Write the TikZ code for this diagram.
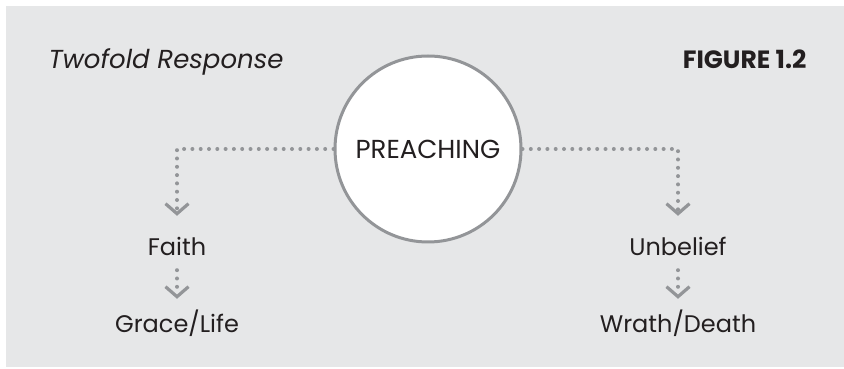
\documentclass[tikz,border=0pt]{standalone}
\usepackage{fontspec}
\setmainfont{Poppins}
\usetikzlibrary{arrows.meta}
\definecolor{panel}{HTML}{E6E7E8}
\definecolor{dotgray}{HTML}{939598}
\definecolor{ink}{HTML}{231F20}

\begin{document}
\begin{tikzpicture}[x=1pt,y=1pt,
   every node/.style={text=ink,font=\fontsize{24}{28}\selectfont},
   label node/.style={anchor=base,inner sep=0pt,text height=17pt,text depth=5pt},
   hub/.style={draw=dotgray,line width=3pt,fill=white,circle,minimum size=186pt,inner sep=0pt,
     font=\fontsize{26}{30}\selectfont},
   flow/.style={dotgray,line width=4pt,line cap=round,dash pattern=on 0pt off 8.3pt,
     -{Straight Barb[length=10pt,width=23pt,line width=3.2pt]}}]
\useasboundingbox (0,0) rectangle (844,369);
\fill[panel] (6,2) rectangle (844,363);
\node[anchor=base west,font=\fontsize{26}{30}\selectfont\itshape] (title) at (45,300) {Twofold Response};
\node[anchor=base east,font=\fontsize{25}{30}\selectfont\bfseries] (fig) at (810,300) {FIGURE 1.2};
\node[hub] (preach) at (428,220) {PREACHING};
\node[label node] (faith) at (177,113) {Faith};
\node[label node] (grace) at (177,36) {Grace/Life};
\node[label node] (unbelief) at (678,113) {Unbelief};
\node[label node] (wrath) at (678,36) {Wrath/Death};
\draw[flow,shorten >=23pt] (preach.west) -| (faith);
\draw[flow,shorten >=23pt] (preach.east) -| (unbelief);
\draw[flow,shorten <=9pt,shorten >=17pt] (faith) -- (grace);
\draw[flow,shorten <=9pt,shorten >=17pt] (unbelief) -- (wrath);
\end{tikzpicture}
\end{document}
